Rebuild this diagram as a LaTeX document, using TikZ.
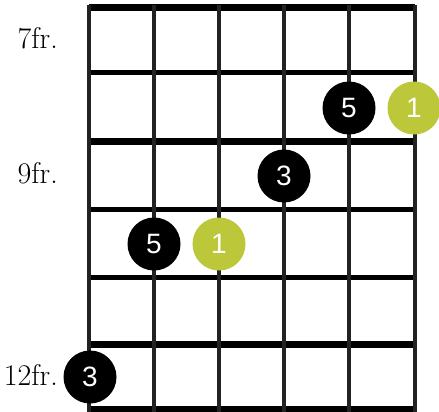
\documentclass[tikz,border=0pt]{standalone}
\usepackage{fontspec}
\newfontfamily\dotfont{Liberation Sans}
\definecolor{stringc}{HTML}{222222}
\definecolor{rootc}{HTML}{BCC83A}
\newcommand{\NeckL}{89}
\newcommand{\NeckR}{415}

\begin{document}
\begin{tikzpicture}[x=1pt, y=-1pt,
    fret/.style={line width=#1, draw=black},
    gstring/.style={line width=4.5pt, draw=stringc},
    tone/.style={circle, fill=#1, text=white, minimum size=53pt, inner sep=0pt,
      font=\dotfont\fontsize{28}{28}\selectfont},
    tone/.default=black,
    frlabel/.style={anchor=east, inner sep=0pt, font=\fontsize{30}{30}\selectfont},
  ]
% --- Canvas -------------------------------------------------------------------
\useasboundingbox (0,0) rectangle (439,412);
\fill[white] (0,0) rectangle (439,412);

% --- Frets (thick at the marked positions) ------------------------------------
\foreach \y/\w in {8/7pt, 73/5pt, 141/7pt, 209/5pt, 277/5pt, 344/7pt, 409/7pt}
  \draw[fret=\w] (\NeckL,\y) -- (\NeckR,\y);

% --- Strings ------------------------------------------------------------------
\foreach \x in {89,154,219,284,349,415}
  \draw[gstring] (\x,5) -- (\x,412);

% --- Fret numbers -------------------------------------------------------------
\node[frlabel] (fr7) at (58,38) {7fr.};
\node[frlabel] (fr9) at (58,173) {9fr.};
\node[frlabel] (fr12) at (58,375) {12fr.};

% --- Notes --------------------------------------------------------------------
\node[tone] (fifthA) at (349,108) {5};
\node[tone=rootc] (rootA) at (414,108) {1};
\node[tone] (thirdA) at (284,176) {3};
\node[tone] (fifthB) at (154,244) {5};
\node[tone=rootc] (rootB) at (219,244) {1};
\node[tone] (thirdB) at (90,377) {3};
\end{tikzpicture}
\end{document}
